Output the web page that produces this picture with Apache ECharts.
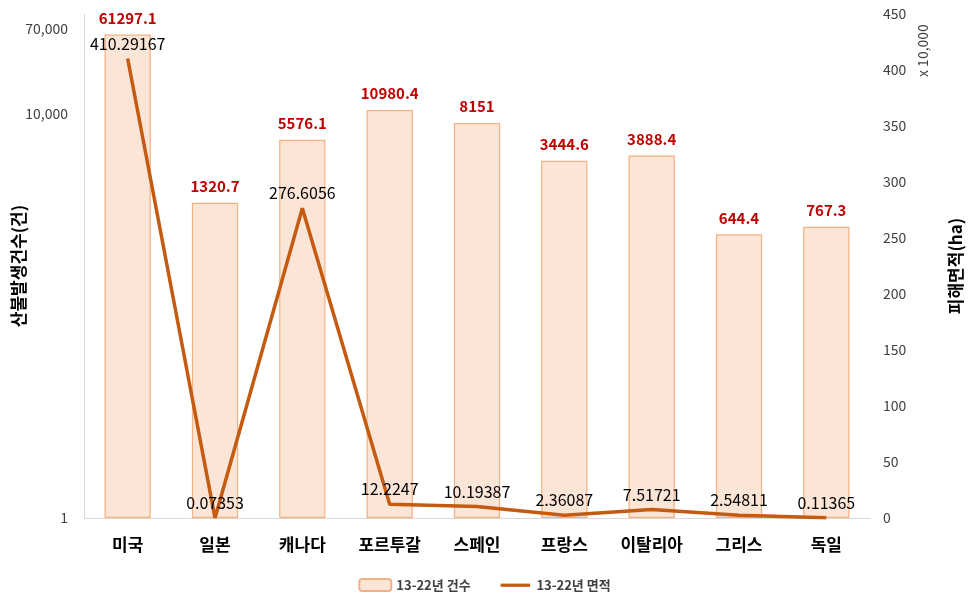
<!DOCTYPE html>
<html>
<head>
<meta charset="utf-8">
<script src="https://cdn.jsdelivr.net/npm/echarts@6/dist/echarts.min.js"></script>
<style>
  html, body { margin: 0; padding: 0; background: #fff; }
  #chart { width: 969px; height: 603px; }
</style>
</head>
<body>
<div id="chart"></div>
<script>
// 국가
var countries = ['미국', '일본', '캐나다', '포르투갈', '스페인', '프랑스', '이탈리아', '그리스', '독일'];
// 13-22년 건수 (left, log)
var fireCounts = [61297.1, 1320.7, 5576.1, 10980.4, 8151, 3444.6, 3888.4, 644.4, 767.3];
// 13-22년 면적 (right, x 10,000 ha)
var fireArea = [410.29167, 0.07353, 276.6056, 12.2247, 10.19387, 2.36087, 7.51721, 2.54811, 0.11365];
// left axis labels
var leftTicks = [1, 10000, 70000];

var font = '"Noto Sans CJK KR", "Noto Sans", sans-serif';
var chart = echarts.init(document.getElementById('chart'));

var option = {
  textStyle: { fontFamily: font },
  animation: false,
  grid: { left: 84, right: 99, top: 14, bottom: 85, outerBoundsMode: 'none', containLabel: false },
  legend: {
    bottom: 6,
    left: 'center',
    itemWidth: 32,
    itemHeight: 12,
    itemGap: 30,
    textStyle: { fontFamily: font, fontWeight: 'bold', fontSize: 13, color: '#404040' },
    data: [
      { name: '13-22년 건수' },
      // 선 아이콘 (심볼 없이)
      { name: '13-22년 면적', icon: 'path://M0,0 L0,0 M0,5 L32,5 L32,8.5 L0,8.5 Z M0,13 L0,13' }
    ]
  },
  xAxis: {
    type: 'category',
    data: countries,
    axisLine: { lineStyle: { color: '#d9d9d9' } },
    axisTick: { show: false },
    axisLabel: { fontFamily: font, fontWeight: 'bold', fontSize: 17, color: '#000', margin: 18 }
  },
  yAxis: [{
    type: 'log',
    min: 1,
    max: 98000,
    name: '산불발생건수(건)',
    nameLocation: 'middle',
    nameRotate: 90,
    nameGap: 57,
    nameMoveOverlap: false,
    nameTextStyle: { fontFamily: font, fontWeight: 'bold', fontSize: 17, color: '#000' },
    axisLine: { show: true, lineStyle: { color: '#d9d9d9' } },
    axisTick: { show: false },
    splitLine: { show: false },
    axisLabel: {
      customValues: leftTicks,
      fontSize: 14,
      color: '#404040',
      margin: 16,
      formatter: function (v) { return Number(v).toLocaleString('en-US'); }
    }
  }, {
    type: 'value',
    min: 0,
    max: 450,
    interval: 50,
    name: '피해면적(ha)',
    nameLocation: 'middle',
    nameRotate: 90,
    nameGap: 77,
    nameMoveOverlap: false,
    nameTextStyle: { fontFamily: font, fontWeight: 'bold', fontSize: 17, color: '#000' },
    axisLine: { show: false },
    axisTick: { show: false },
    splitLine: { show: false },
    axisLabel: { fontSize: 14, color: '#404040', margin: 13 }
  }],
  graphic: [{
    type: 'text',
    x: 916,
    y: 77,
    rotation: Math.PI / 2,
    style: { text: 'x 10,000', font: '14px ' + font, fill: '#404040' }
  }],
  series: [{
    name: '13-22년 건수',
    type: 'bar',
    yAxisIndex: 0,
    barWidth: '53%',
    data: fireCounts,
    itemStyle: { color: '#fbe5d6', borderColor: '#f4b183', borderWidth: 1.2 },
    label: {
      show: true,
      position: 'top',
      distance: 9,
      fontFamily: font,
      fontWeight: 'bold',
      fontSize: 15,
      color: '#c00000'
    }
  }, {
    name: '13-22년 면적',
    type: 'line',
    yAxisIndex: 1,
    data: fireArea,
    symbol: 'circle',
    symbolSize: 0.1,
    showSymbol: true,
    lineStyle: { color: '#c55a11', width: 3.5 },
    itemStyle: { color: '#c55a11' },
    z: 5,
    label: {
      show: true,
      position: 'top',
      distance: 7,
      fontFamily: font,
      fontSize: 16,
      color: '#000'
    }
  }]
};

chart.setOption(option);
</script>
</body>
</html>
